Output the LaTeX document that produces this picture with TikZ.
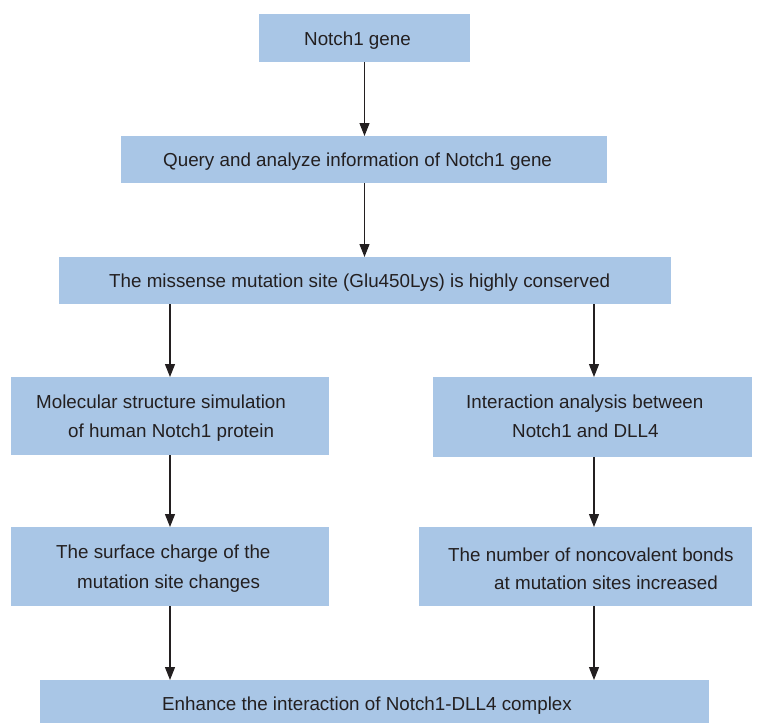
\documentclass[tikz,border=0pt]{standalone}
\usepackage{fontspec}
\setmainfont{Liberation Sans}
\usetikzlibrary{arrows.meta}
\definecolor{boxblue}{HTML}{A9C6E6}
\definecolor{txt}{HTML}{231F20}
\begin{document}
\begin{tikzpicture}[x=1pt,y=-1pt,
  box/.style={fill=boxblue,draw=none,inner sep=0pt,outer sep=0pt},
  lbl/.style={anchor=base west,inner sep=0pt,text=txt,font=\fontsize{18.8}{22}\selectfont},
  arr/.style={-{Triangle[length=13pt,width=10pt]},line width=1.1pt,color=txt}]
\useasboundingbox (0,0) rectangle (766,723);
% boxes
\node[box,minimum width=211pt,minimum height=48pt] (b1) at (364.5,38) {};
\node[box,minimum width=486pt,minimum height=47pt] (b2) at (364,159.5) {};
\node[box,minimum width=612pt,minimum height=47pt] (b3) at (365,280.5) {};
\node[box,minimum width=318pt,minimum height=78pt] (b4) at (170,416) {};
\node[box,minimum width=319pt,minimum height=80pt] (b5) at (592.5,417) {};
\node[box,minimum width=318pt,minimum height=79pt] (b6) at (170,566.5) {};
\node[box,minimum width=333pt,minimum height=79pt] (b7) at (585.5,566.5) {};
\node[box,minimum width=669pt,minimum height=43pt] (b8) at (374.5,701.5) {};
% texts
\node[lbl] (t1) at (304,45) {Notch1 gene};
\node[lbl] (t2) at (163,166) {Query and analyze information of Notch1 gene};
\node[lbl] (t3) at (109,287) {The missense mutation site (Glu450Lys) is highly conserved};
\node[lbl] (t4a) at (36,408) {Molecular structure simulation};
\node[lbl] (t4b) at (68,437) {of human Notch1 protein};
\node[lbl] (t5a) at (466,408) {Interaction analysis between};
\node[lbl] (t5b) at (512,437) {Notch1 and DLL4};
\node[lbl] (t6a) at (56,558) {The surface charge of the};
\node[lbl] (t6b) at (77,588) {mutation site changes};
\node[lbl] (t7a) at (448,561) {The number of noncovalent bonds};
\node[lbl] (t7b) at (494,589) {at mutation sites increased};
\node[lbl] (t8) at (162,710) {Enhance the interaction of Notch1-DLL4 complex};
% arrows
\coordinate (cr) at (594,0);
\draw[arr] (b1.south) -- (b1.south |- b2.north);
\draw[arr] (b1.south |- b2.south) -- (b1.south |- b3.north);
\draw[arr] (b3.south -| b4.north) -- (b4.north);
\draw[arr] (b3.south -| cr) -- (b4.north -| cr);
\draw[arr] (b4.south) -- (b6.north);
\draw[arr] (b5.south -| cr) -- (b7.north -| cr);
\draw[arr] (b6.south) -- (b8.north -| b6.south);
\draw[arr] (b7.south -| cr) -- (b8.north -| cr);
\end{tikzpicture}
\end{document}
